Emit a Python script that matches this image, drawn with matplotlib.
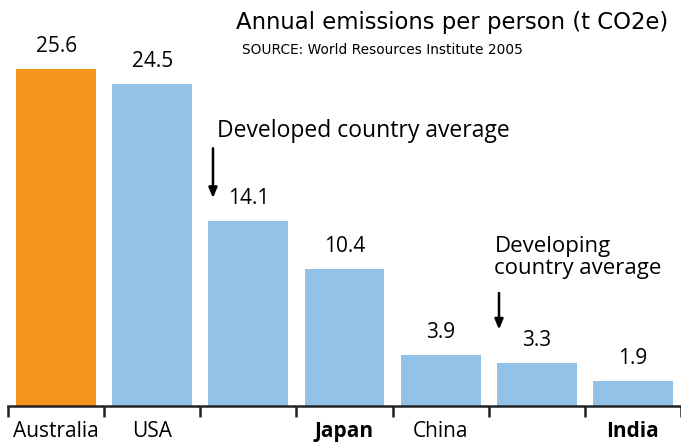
import matplotlib.pyplot as plt

# Chart data
countries = ['Australia', 'USA', '', 'Japan', 'China', '', 'India']
emissions = [25.6, 24.5, 14.1, 10.4, 3.9, 3.3, 1.9]
value_labels = ['25.6', '24.5', '14.1', '10.4', '3.9', '3.3', '1.9']
bold_labels = ['Japan', 'India']

orange = '#F7941D'
blue = '#92C2E8'
colors = [orange] + [blue] * (len(emissions) - 1)

plt.rcParams['font.family'] = ['Open Sans', 'DejaVu Sans']

fig = plt.figure(figsize=(6.81, 4.46), dpi=100)
ax = fig.add_axes([8 / 681, 40 / 446, 1 - 8 / 681, 392 / 446])

x = list(range(len(emissions)))
ax.bar(x, emissions, width=0.83, color=colors)

for xi, v, lab in zip(x, emissions, value_labels):
    ax.text(xi, v + 0.9, lab, ha='center', va='bottom', fontsize=15)

ax.set_xlim(-0.5, 6.5)
ax.set_ylim(0, 29.8)

# ticks at category boundaries, labels at bar centres
ax.set_xticks([i - 0.5 for i in range(len(emissions) + 1)])
ax.set_xticklabels([])
ax.tick_params(axis='x', which='major', length=8, width=1.8, color='#222222')
ax.set_xticks(x, minor=True)
ax.set_xticklabels(countries, minor=True, fontsize=15)
ax.tick_params(axis='x', which='minor', length=0, pad=11)
for t in ax.get_xticklabels(minor=True):
    if t.get_text() in bold_labels:
        t.set_fontweight('bold')

ax.set_yticks([])
for side in ['top', 'right', 'left']:
    ax.spines[side].set_visible(False)
ax.spines['bottom'].set_linewidth(1.8)
ax.spines['bottom'].set_color('#222222')

# titles
fig.text(236 / 681, 1 - 22 / 446, 'Annual emissions per person (t CO2e)',
         fontsize=16.4, family=['DejaVu Sans'], va='center', ha='left')
fig.text(242 / 681, 1 - 50 / 446, 'SOURCE: World Resources Institute 2005',
         fontsize=9.9, family=['DejaVu Sans'], va='center', ha='left')

# annotations
arrow = dict(arrowstyle='-|>,head_length=0.6,head_width=0.25', color='black', lw=1.8)
ax.annotate('', xy=(1.632, 15.6), xytext=(1.632, 19.8), arrowprops=arrow)
ax.text(1.67, 20.9, 'Developed country average', fontsize=16.5, ha='left', va='center')

ax.annotate('', xy=(4.607, 5.6), xytext=(4.607, 8.8), arrowprops=arrow)
ax.text(4.56, 11.3, 'Developing\ncountry average', fontsize=16, ha='left',
        va='center', linespacing=1.1)

fig.savefig('out.png', dpi=100)
